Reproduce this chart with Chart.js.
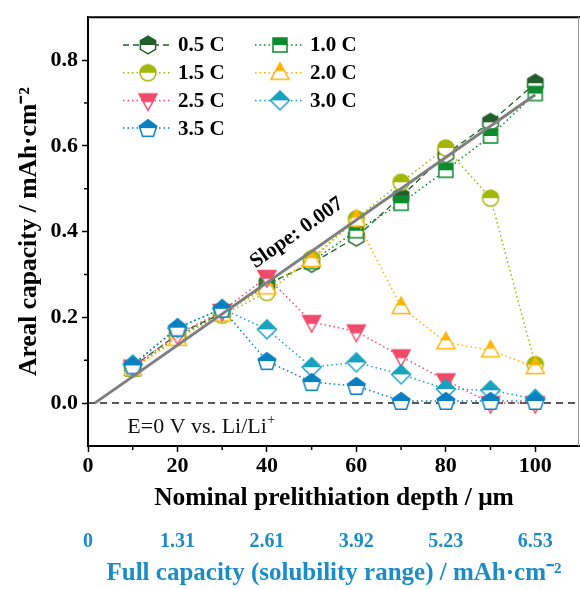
<!DOCTYPE html>
<html>
<head>
<meta charset="utf-8">
<script src="https://cdn.jsdelivr.net/npm/chart.js@4.4.1/dist/chart.umd.min.js"></script>
<style>
  html, body { margin: 0; padding: 0; background: #fff; }
  canvas { display: block; }
</style>
</head>
<body>
<canvas id="chart" width="580" height="589"></canvas>
<script>
// prelithiation depth (µm) and areal capacity (mAh/cm2) for each C-rate
const depth = [10, 20, 30, 40, 50, 60, 70, 80, 90, 100];
const c05 = [0.085, 0.16, 0.21, 0.277, 0.326, 0.387, 0.482, 0.58, 0.655, 0.746];
const c10 = [0.08, 0.155, 0.21, 0.275, 0.33, 0.402, 0.466, 0.543, 0.623, 0.722];
const c15 = [0.08, 0.155, 0.205, 0.258, 0.337, 0.43, 0.515, 0.595, 0.478, 0.09];
const c20 = [0.08, 0.15, 0.207, 0.27, 0.334, 0.428, 0.224, 0.142, 0.123, 0.084];
const c25 = [0.085, 0.16, 0.215, 0.294, 0.189, 0.167, 0.109, 0.053, 0.0, 0.0];
const c30 = [0.09, 0.175, 0.22, 0.172, 0.084, 0.095, 0.067, 0.033, 0.03, 0.01];
const c35 = [0.088, 0.176, 0.22, 0.098, 0.049, 0.04, 0.005, 0.005, 0.005, 0.005];

const rateLabels = ["0.5 C", "1.0 C", "1.5 C", "2.0 C", "2.5 C", "3.0 C", "3.5 C"];

// axis ticks
const xTicks = [0, 20, 40, 60, 80, 100];
const xMinor = [10, 30, 50, 70, 90];
const yTicks = [0, 0.2, 0.4, 0.6, 0.8];
const yMinor = [0.1, 0.3, 0.5, 0.7];
const capacityLabels = ["0", "1.31", "2.61", "3.92", "5.23", "6.53"];

// linear fit
const fitSlope = 0.0073;
const fitIntercept = -0.011;
const fitFrom = 1.5;
const fitTo = 100;

const SERIF = '"Liberation Serif", "Times New Roman", serif';
const BLUE = "#1a8cc6";

// half-filled marker: top half solid, bottom half white with coloured outline
function makeMarker(shape, color) {
  const size = 24, c = size / 2;
  const cv = document.createElement("canvas");
  cv.width = size; cv.height = size;
  const ctx = cv.getContext("2d");
  let pts = null, top = -8, bottom = 8;
  if (shape === "hexagon") {
    pts = [0, 1, 2, 3, 4, 5].map(k => {
      const a = (-90 + 60 * k) * Math.PI / 180;
      return [8.8 * Math.cos(a), 8.8 * Math.sin(a)];
    });
    top = -8.8; bottom = 8.8;
  } else if (shape === "square") {
    pts = [[-7, -7], [7, -7], [7, 7], [-7, 7]];
    top = -7; bottom = 7;
  } else if (shape === "triUp") {
    pts = [[0, -10], [9, 6.5], [-9, 6.5]];
    top = -10; bottom = 6.5;
  } else if (shape === "triDown") {
    pts = [[-9, -6.5], [9, -6.5], [0, 10]];
    top = -6.5; bottom = 10;
  } else if (shape === "diamond") {
    pts = [[0, -9.5], [9.5, 0], [0, 9.5], [-9.5, 0]];
    top = -9.5; bottom = 9.5;
  } else if (shape === "pentagon") {
    pts = [0, 1, 2, 3, 4].map(k => {
      const a = (-90 + 72 * k) * Math.PI / 180;
      return [9.2 * Math.cos(a), 9.2 * Math.sin(a) + 0.8];
    });
    top = -8.4; bottom = 8.4;
  }
  const path = () => {
    ctx.beginPath();
    if (shape === "circle") {
      ctx.arc(c, c, 8, 0, Math.PI * 2);
      top = -8; bottom = 8;
    } else {
      pts.forEach((p, i) => i ? ctx.lineTo(c + p[0], c + p[1]) : ctx.moveTo(c + p[0], c + p[1]));
      ctx.closePath();
    }
  };
  path();
  ctx.fillStyle = "#fff";
  ctx.fill();
  const mid = c + (top + bottom) / 2;
  ctx.save();
  ctx.beginPath();
  ctx.rect(0, 0, size, mid);
  ctx.clip();
  path();
  ctx.fillStyle = color;
  ctx.fill();
  ctx.restore();
  path();
  ctx.strokeStyle = color;
  ctx.lineWidth = 1.5;
  ctx.stroke();
  return cv;
}

const seriesValues = [c05, c10, c15, c20, c25, c30, c35];
const colors = ["#235f2b", "#0b8b2c", "#a2b707", "#ffb400", "#ef4a6b", "#18a2bf", "#0a80c2"];
const shapes = ["hexagon", "square", "circle", "triUp", "triDown", "diamond", "pentagon"];
const markers = shapes.map((s, i) => makeMarker(s, colors[i]));

const datasets = seriesValues.map((vals, i) => ({
  label: rateLabels[i],
  data: depth.map((d, j) => ({ x: d, y: vals[j] })),
  borderColor: colors[i],
  borderWidth: i === 0 ? 1.3 : 1.5,
  borderDash: i === 0 ? [6, 4] : [1.5, 3],
  pointStyle: markers[i],
  pointRadius: 8,
  fill: false,
  order: 20 - i
}));

datasets.push({
  label: "fit",
  data: [fitFrom, fitTo].map(x => ({ x: x, y: fitSlope * x + fitIntercept })),
  borderColor: "#7f7f7f",
  borderWidth: 3,
  pointRadius: 0,
  order: 0
});

const decorations = {
  id: "decorations",
  beforeDatasetsDraw(chart) {
    const { ctx, chartArea, scales } = chart;
    const y0 = scales.y.getPixelForValue(0);
    ctx.save();
    ctx.strokeStyle = "#222";
    ctx.lineWidth = 1.5;
    ctx.setLineDash([7, 5]);
    ctx.beginPath();
    ctx.moveTo(chartArea.left, y0);
    ctx.lineTo(chartArea.right, y0);
    ctx.stroke();
    ctx.restore();
  },
  afterDraw(chart) {
    const { ctx, chartArea, scales } = chart;
    const xs = scales.x, ys = scales.y;
    ctx.save();

    // frame
    ctx.strokeStyle = "#000";
    ctx.lineWidth = 2;
    ctx.beginPath();
    ctx.moveTo(chartArea.left, chartArea.top);
    ctx.lineTo(chartArea.right, chartArea.top);
    ctx.stroke();
    ctx.strokeStyle = "#999";
    ctx.lineWidth = 1;
    ctx.beginPath();
    ctx.moveTo(chartArea.right - 1.5, chartArea.top);
    ctx.lineTo(chartArea.right - 1.5, chartArea.bottom);
    ctx.stroke();

    // minor ticks
    ctx.strokeStyle = "#000";
    ctx.lineWidth = 1.5;
    yMinor.forEach(v => {
      const p = ys.getPixelForValue(v);
      ctx.beginPath();
      ctx.moveTo(chartArea.left - 4, p);
      ctx.lineTo(chartArea.left, p);
      ctx.stroke();
    });
    xMinor.forEach(v => {
      const p = xs.getPixelForValue(v);
      ctx.beginPath();
      ctx.moveTo(p, chartArea.bottom);
      ctx.lineTo(p, chartArea.bottom + 4);
      ctx.stroke();
    });

    // reference potential label
    ctx.fillStyle = "#111";
    ctx.textBaseline = "alphabetic";
    ctx.textAlign = "left";
    ctx.font = "22px " + SERIF;
    const ex = xs.getPixelForValue(8.8), ey = ys.getPixelForValue(-0.07);
    const main = "E=0 V vs. Li/Li";
    ctx.fillText(main, ex, ey);
    const w = ctx.measureText(main).width;
    ctx.font = "14px " + SERIF;
    ctx.fillText("+", ex + w + 0.5, ey - 9);

    // slope label along the fit line
    const angle = Math.atan2(
      ys.getPixelForValue(fitSlope * 100) - ys.getPixelForValue(0),
      xs.getPixelForValue(100) - xs.getPixelForValue(0)
    );
    ctx.save();
    ctx.translate(xs.getPixelForValue(46.7), ys.getPixelForValue(0.397));
    ctx.rotate(angle);
    ctx.font = "bold 21px " + SERIF;
    ctx.textAlign = "center";
    ctx.textBaseline = "middle";
    ctx.fillStyle = "#000";
    ctx.fillText("Slope: 0.007", 0, 0);
    ctx.restore();

    // legend, two columns
    const legLeft = 123, colGap = 132, legTop = 45, rowGap = 27.7;
    rateLabels.forEach((lab, i) => {
      const col = i % 2, row = Math.floor(i / 2);
      const lx = legLeft + col * colGap, ly = legTop + row * rowGap;
      ctx.strokeStyle = colors[i];
      ctx.lineWidth = datasets[i].borderWidth;
      ctx.setLineDash(datasets[i].borderDash);
      ctx.beginPath();
      ctx.moveTo(lx, ly);
      ctx.lineTo(lx + 47, ly);
      ctx.stroke();
      ctx.setLineDash([]);
      ctx.drawImage(markers[i], lx + 25 - markers[i].width / 2, ly - markers[i].height / 2);
      ctx.font = "bold 21px " + SERIF;
      ctx.fillStyle = "#000";
      ctx.textAlign = "left";
      ctx.textBaseline = "middle";
      ctx.fillText(lab, lx + 55, ly + 1);
    });

    ctx.restore();
  }
};

new Chart(document.getElementById("chart"), {
  type: "line",
  data: { datasets: datasets },
  options: {
    responsive: false,
    animation: false,
    layout: { autoPadding: false, padding: { top: 15, right: 0, left: 0, bottom: 0 } },
    plugins: { legend: { display: false }, tooltip: { enabled: false } },
    scales: {
      x: {
        type: "linear",
        position: "bottom",
        min: 0,
        max: 110,
        weight: 0,
        afterBuildTicks: s => { s.ticks = xTicks.map(v => ({ value: v })); },
        afterFit: s => { s.height = 70; },
        ticks: {
          callback: v => String(v),
          font: { family: SERIF, size: 22, weight: "bold" },
          color: "#000",
          padding: 1,
          maxRotation: 0
        },
        grid: { drawOnChartArea: false, tickLength: 6, tickWidth: 1.5, tickColor: "#000" },
        border: { color: "#000", width: 2 },
        title: {
          display: true,
          text: "Nominal prelithiation depth / μm",
          font: { family: SERIF, size: 25.5, weight: "bold" },
          color: "#000",
          padding: { top: 0, bottom: 2 }
        }
      },
      x2: {
        type: "linear",
        position: "bottom",
        min: 0,
        max: 110,
        weight: 1,
        afterBuildTicks: s => { s.ticks = xTicks.map(v => ({ value: v })); },
        afterFit: s => { s.height = 73; },
        ticks: {
          callback: (v, i) => capacityLabels[i],
          font: { family: SERIF, size: 20, weight: "bold" },
          color: BLUE,
          padding: 14,
          maxRotation: 0
        },
        grid: { display: false, drawTicks: false },
        border: { display: false },
        title: {
          display: true,
          text: "Full capacity (solubility range) / mAh·cm⁻²",
          font: { family: SERIF, size: 25, weight: "bold" },
          color: BLUE,
          padding: { top: 0, bottom: 0 }
        }
      },
      y: {
        type: "linear",
        min: -0.1,
        max: 0.9,
        afterBuildTicks: s => { s.ticks = yTicks.map(v => ({ value: v })); },
        afterFit: s => { s.width = 88; },
        ticks: {
          callback: v => v.toFixed(1),
          font: { family: SERIF, size: 22, weight: "bold" },
          color: "#000",
          padding: 4
        },
        grid: { drawOnChartArea: false, tickLength: 6, tickWidth: 1.5, tickColor: "#000" },
        border: { color: "#000", width: 2 },
        title: {
          display: true,
          text: "Areal capacity / mAh·cm⁻²",
          font: { family: SERIF, size: 25.5, weight: "bold" },
          color: "#000",
          padding: { top: 14, bottom: 0 }
        }
      }
    }
  },
  plugins: [decorations]
});
</script>
</body>
</html>
